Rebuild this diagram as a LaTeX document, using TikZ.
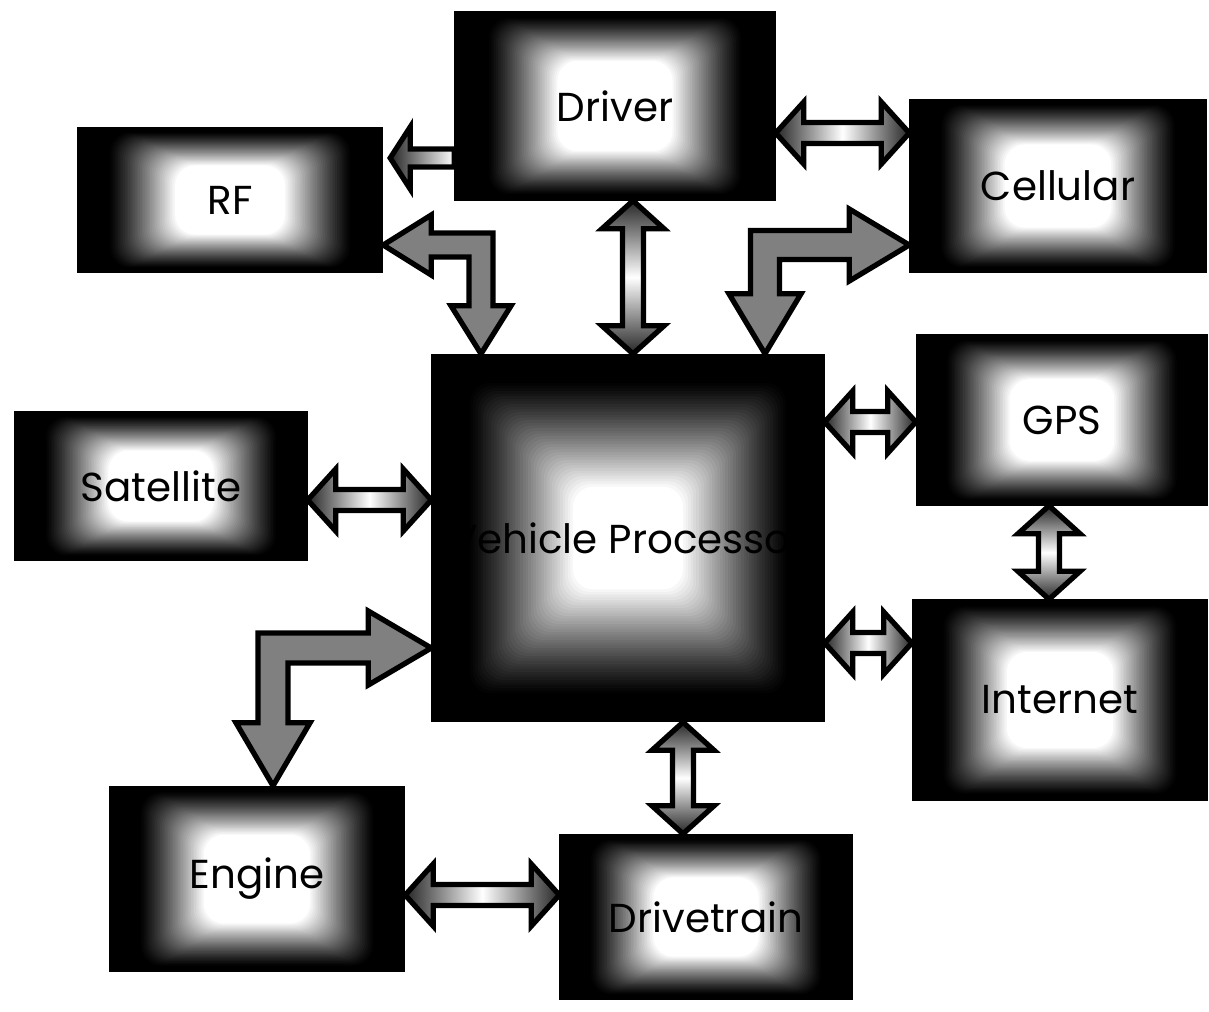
\documentclass[tikz,border=0pt]{standalone}
\usepackage{fontspec}
\setmainfont{Poppins}
\usetikzlibrary{calc}

% double arrow, left tip #1, right tip #2, on row #3
\newcommand{\HArrow}[3]{%
    \draw[ArrowCfg, left color=black!85, right color=black!85, middle color=white]
        let \p1=(#1), \p2=(#2), \p3=(0,#3) in
        (\x1,\y3) -- ({\x1+2.8mm},{\y3+3.1mm}) -- ({\x1+2.8mm},{\y3+1.05mm})
        -- ({\x2-2.8mm},{\y3+1.05mm}) -- ({\x2-2.8mm},{\y3+3.1mm}) -- (\x2,\y3)
        -- ({\x2-2.8mm},{\y3-3.1mm}) -- ({\x2-2.8mm},{\y3-1.05mm})
        -- ({\x1+2.8mm},{\y3-1.05mm}) -- ({\x1+2.8mm},{\y3-3.1mm}) -- cycle;}

% double arrow, top tip #1, bottom tip #2, in column #3
\newcommand{\VArrow}[3]{%
    \draw[ArrowCfg, top color=black!85, bottom color=black!85, middle color=white]
        let \p1=(#1), \p2=(#2), \p3=(#3,0) in
        (\x3,\y1) -- ({\x3+3.1mm},{\y1-2.8mm}) -- ({\x3+1.05mm},{\y1-2.8mm})
        -- ({\x3+1.05mm},{\y2+2.8mm}) -- ({\x3+3.1mm},{\y2+2.8mm}) -- (\x3,\y2)
        -- ({\x3-3.1mm},{\y2+2.8mm}) -- ({\x3-1.05mm},{\y2+2.8mm})
        -- ({\x3-1.05mm},{\y1-2.8mm}) -- ({\x3-3.1mm},{\y1-2.8mm}) -- cycle;}

% bent arrow: side tip #1, lower tip #2, bend #3, side (1 right, -1 left) #4,
% shaft #5, head #6, head length #7
\newcommand{\LArrow}[7]{%
    \draw[ArrowCfg, fill=black!50]
        let \p1=(#1), \p2=(#2), \p3=(#3) in
        (\x1,\y3) -- ({\x1-(#4)*(#7)},{\y3+#6}) -- ({\x1-(#4)*(#7)},{\y3+#5})
        -- ({\x3-(#4)*(#5)},{\y3+#5}) -- ({\x3-(#4)*(#5)},{\y2+#7})
        -- ({\x3-(#4)*(#6)},{\y2+#7}) -- (\x3,\y2)
        -- ({\x3+(#4)*(#6)},{\y2+#7}) -- ({\x3+(#4)*(#5)},{\y2+#7})
        -- ({\x3+(#4)*(#5)},{\y3-#5}) -- ({\x1-(#4)*(#7)},{\y3-#5})
        -- ({\x1-(#4)*(#7)},{\y3-#6}) -- cycle;}

\begin{document}
\begin{tikzpicture}[
        %Environment config
        x=0.1mm, y=-0.1mm,
        %Environment styles
        glow/.style n args={4}{
            path picture={
                \foreach \k in {1,...,40}{
                    \pgfmathsetmacro\gx{#1+(#2-#1)*\k/40}
                    \pgfmathsetmacro\gy{#3+(#4-#3)*\k/40}
                    \pgfmathsetmacro\gw{100*(1-(\k/40)^1.2)}
                    \fill[black!\gw!white, rounded corners=2mm]
                        let \p1=(path picture bounding box.south west),
                            \p2=(path picture bounding box.north east) in
                        ({\x1+\gx*(\x2-\x1)/2},{\y1+\gy*(\y2-\y1)/2})
                        rectangle ({\x2-\gx*(\x2-\x1)/2},{\y2-\gy*(\y2-\y1)/2});
                }
            }
        },
        BoxCfg/.style={
            draw=black,
            fill=black,
            thin,
            glow={0.2}{0.64}{0.05}{0.52},
            inner sep=0pt,
            font=\fontsize{11.5}{13}\selectfont
        },
        ArrowCfg/.style={
            draw=black,
            line width=1.5pt,
            line join=miter
        }
    ]
    \useasboundingbox (0,0) rectangle (1209,1011);

    \path
        (628,538) node[BoxCfg,glow={0.18}{0.72}{0.14}{0.72},minimum width=39.2mm,minimum height=36.7mm](Process){Vehicle Processor}
        (230,200) node[BoxCfg,minimum width=30.5mm,minimum height=14.4mm](RF){RF}
        (615,106) node[BoxCfg,minimum width=32mm,minimum height=18.8mm](Driver){Driver}
        (1058,186) node[BoxCfg,minimum width=29.6mm,minimum height=17.3mm](Cellular){Cellular}
        (161,486) node[BoxCfg,minimum width=29.2mm,minimum height=14.8mm](Satellite){Satellite}
        (1062,420) node[BoxCfg,minimum width=29.1mm,minimum height=17mm](GPS){GPS}
        (1060,700) node[BoxCfg,minimum width=29.5mm,minimum height=20mm](Internet){Internet}
        (257,879) node[BoxCfg,minimum width=29.5mm,minimum height=18.5mm](Engine){Engine}
        (706,917) node[BoxCfg,minimum width=29.2mm,minimum height=16.5mm](Drivetrain){Drivetrain};

    %straight links
    \HArrow{Satellite.east}{Process.west}{500}
    \HArrow{Driver.east}{Cellular.west}{133}
    \HArrow{Process.east}{GPS.west}{422}
    \HArrow{Process.east}{Internet.west}{643}
    \HArrow{Engine.east}{Drivetrain.west}{895}
    \VArrow{Driver.south}{Process.north}{633}
    \VArrow{GPS.south}{Internet.north}{1049}
    \VArrow{Process.south}{Drivetrain.north}{683}

    %bent links
    \LArrow{RF.east}{Process.north}{481,245}{-1}{1.2mm}{3mm}{4.8mm}
    \LArrow{Cellular.west}{Process.north}{765,245}{1}{1.45mm}{3.6mm}{6mm}
    \LArrow{Process.west}{Engine.north}{273,648}{1}{1.5mm}{3.7mm}{6.3mm}

    %driver to rf
    \draw[ArrowCfg, left color=black!85, right color=white]
        let \p1=(RF.east), \p2=(Driver.west), \p3=(0,158) in
        ({\x1+0.7mm},\y3) -- ({\x1+2.7mm},{\y3+3.1mm}) -- ({\x1+2.7mm},{\y3+0.9mm})
        -- (\x2,{\y3+0.9mm}) -- (\x2,{\y3-0.9mm})
        -- ({\x1+2.7mm},{\y3-0.9mm}) -- ({\x1+2.7mm},{\y3-3.1mm}) -- cycle;
\end{tikzpicture}
\end{document}
